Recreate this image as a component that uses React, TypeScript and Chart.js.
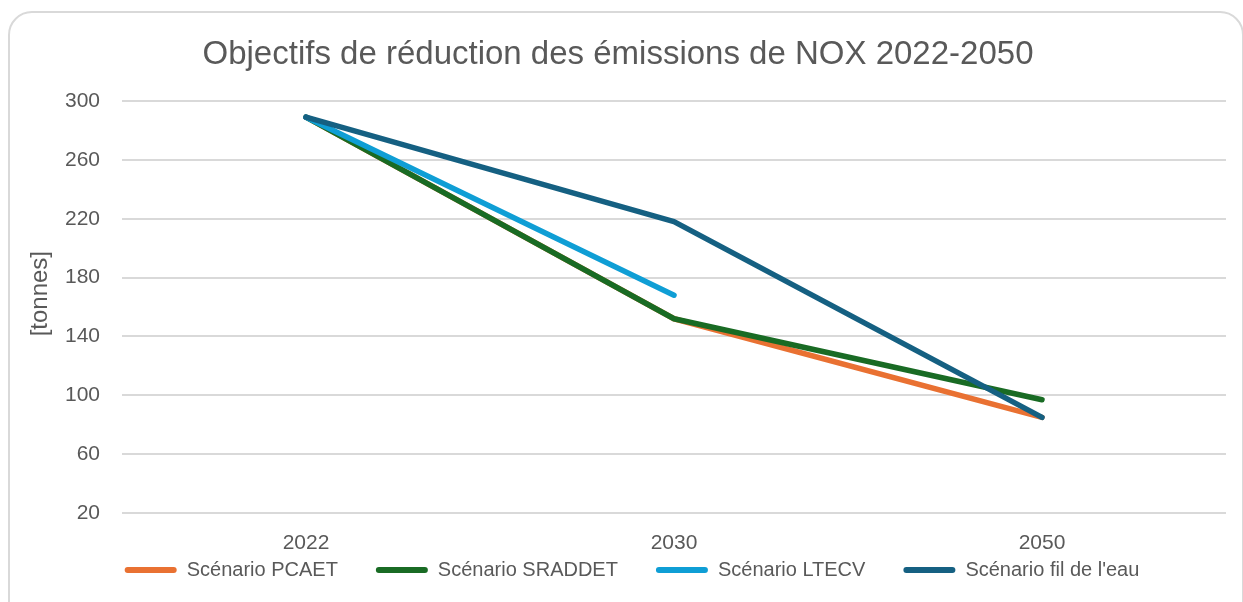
import React, { useEffect, useRef } from "react";
import { Chart, registerables } from "chart.js";

Chart.register(...registerables);

const years = ["2022", "2030", "2050"];
const pcaet = [289, 152, 85];
const sraddet = [289, 152, 97];
const ltecv = [289, 168, null];
const filDeLEau = [289, 218, 85];
const seriesNames = ["Scénario PCAET", "Scénario SRADDET", "Scénario LTECV", "Scénario fil de l'eau"];
const seriesColors = ["#E97132", "#196B24", "#0F9ED5", "#156082"];
const yTicks = [20, 60, 100, 140, 180, 220, 260, 300];

const FONT = "'Liberation Sans', Arial, sans-serif";
const TEXT = "#595959";

export default function App() {
  const ref = useRef<HTMLCanvasElement | null>(null);

  useEffect(() => {
    document.documentElement.style.overflow = "hidden";
    document.body.style.overflow = "hidden";
    const canvas = ref.current;
    if (!canvas) return;
    const values = [pcaet, sraddet, ltecv, filDeLEau];
    const orders = [4, 3, 2, 1];
    const placeLegend = {
      id: "placeLegend",
      afterLayout(chart: any) {
        const lg = chart.legend;
        if (lg) {
          const h = lg.bottom - lg.top;
          lg.left += 14;
          lg.right += 14;
          lg.top = 522;
          lg.bottom = 522 + h;
        }
      },
    };
    const chart = new Chart(canvas, {
      type: "line",
      data: {
        labels: years,
        datasets: values.map((v, i) => ({
          label: seriesNames[i],
          data: v,
          borderColor: seriesColors[i],
          backgroundColor: seriesColors[i],
          borderWidth: 5.5,
          borderCapStyle: "round",
          borderJoinStyle: "round",
          pointRadius: 0,
          pointHoverRadius: 0,
          tension: 0,
          spanGaps: false,
          order: orders[i],
        })),
      },
      options: {
        responsive: false,
        animation: false,
        devicePixelRatio: 1,
        layout: { padding: { left: 10, right: 17, top: 35, bottom: -24 } },
        plugins: {
          tooltip: { enabled: false },
          title: {
            display: true,
            text: "Objectifs de réduction des émissions de NOX 2022-2050",
            color: TEXT,
            font: { family: FONT, size: 33, weight: "normal", lineHeight: 1.2 },
            padding: { top: 0, bottom: 26.4 },
          },
          legend: {
            position: "bottom",
            labels: {
              color: TEXT,
              font: { family: FONT, size: 20 },
              boxWidth: 52,
              boxHeight: 6,
              padding: 38,
              useBorderRadius: true,
              borderRadius: 3,
              sort: (a: any, b: any) => a.datasetIndex - b.datasetIndex,
              generateLabels: (c: any) =>
                (Chart.defaults.plugins.legend.labels as any)
                  .generateLabels(c)
                  .map((l: any) => ({ ...l, lineWidth: 0 })),
            },
          },
        },
        scales: {
          x: {
            type: "category",
            offset: true,
            grid: { display: false, drawTicks: false },
            border: { display: false },
            ticks: {
              color: TEXT,
              font: { family: FONT, size: 21 },
              padding: 18,
              maxRotation: 0,
            },
            afterFit: (s: any) => {
              s.height = 45;
            },
          },
          y: {
            min: 20,
            max: 300,
            afterBuildTicks: (s: any) => {
              s.ticks = yTicks.map((v) => ({ value: v }));
            },
            grid: { color: "#d9d9d9", lineWidth: 2, drawTicks: false },
            border: { display: false },
            ticks: {
              color: TEXT,
              font: { family: FONT, size: 21 },
              padding: 22,
            },
            title: {
              display: true,
              text: "    [tonnes]",
              color: TEXT,
              font: { family: FONT, size: 24, lineHeight: 1.2 },
              padding: { top: 15.6, bottom: 0 },
            },
            afterFit: (s: any) => {
              s.width = 112;
            },
          },
        },
      },
      plugins: [placeLegend],
    } as any);
    return () => chart.destroy();
  }, []);

  return (
    <div style={{ position: "relative", width: 1243, height: 602 }}>
      <div
        style={{
          position: "fixed",
          left: 8,
          top: 11,
          width: 1236,
          height: 660,
          border: "2px solid #d9d9d9",
          borderRadius: 24,
          boxSizing: "border-box",
          background: "#ffffff",
        }}
      />
      <canvas
        ref={ref}
        width={1243}
        height={602}
        style={{ position: "fixed", left: 0, top: 0, width: 1243, height: 602 }}
      />
    </div>
  );
}
